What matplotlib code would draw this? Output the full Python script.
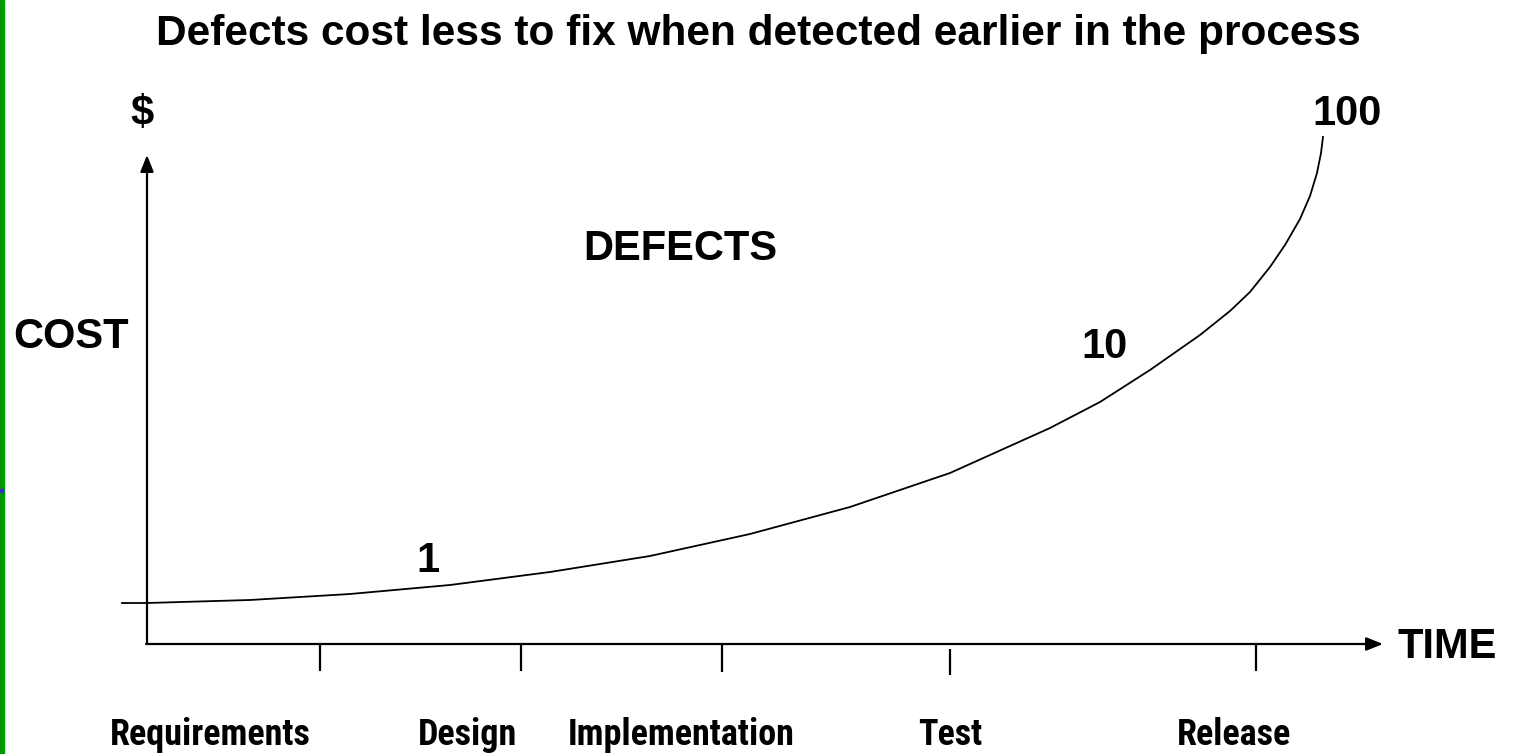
import numpy as np
import matplotlib
import matplotlib.pyplot as plt
from matplotlib.patches import Rectangle
from matplotlib import font_manager as fm

matplotlib.use('Agg')
plt.rcParams['font.family'] = ['Liberation Sans', 'DejaVu Sans']
plt.rcParams['font.weight'] = 'bold'

# curve: time units from the cost axis, cost units above the time axis
curve_t = [-25, 0, 103, 203, 303, 403, 503, 603, 703, 803, 903, 953, 1003, 1053,
           1083, 1103, 1123, 1138, 1153, 1163, 1170, 1174, 1176]
curve_cost = [41, 41, 44, 50, 59, 72, 88, 110, 137, 171, 216, 242, 274, 309,
              333, 352, 377, 399, 425, 448, 471, 491, 507]

stage_names = ['Requirements', 'Design', 'Implementation', 'Test', 'Release']
stage_ticks = [173, 374, 575, 803, 1109]
tick_top = [0, 0, 0, -5, 0]
tick_bottom = [-27, -27, -28, -31, -27]
stage_label_x = [63, 320, 534, 803, 1087]

cost_marks = ['1', '10', '100']
cost_mark_x = [281, 958, 1200]
cost_mark_y = [72, 286, 519]

# look for a narrow bold face for the stage names
narrow = None
for f in fm.fontManager.ttflist:
    n = f.name.lower()
    if ('narrow' in n or 'condensed' in n or 'condensed' in str(f.stretch)) and f.weight in ('bold', 700):
        narrow = f
        if 'liberation' in n or 'roboto' in n:
            break
if narrow is not None:
    stage_font = dict(fontproperties=fm.FontProperties(fname=narrow.fname, size=26))
else:
    stage_font = dict(fontsize=20, fontweight='bold')

fig = plt.figure(figsize=(15.16, 7.54), dpi=100)
ax = fig.add_axes([0, 0, 1, 1])
ax.set_xlim(-147, 1516 - 147)
ax.set_ylim(-110, 644)
ax.axis('off')

# green strip on the left edge, with the little blue nick
fig.patches.append(Rectangle((0, 0), 4 / 1516, 1, transform=fig.transFigure,
                             color='#009900', zorder=0))
fig.patches.append(Rectangle((0, 1 - 492 / 754), 3 / 1516, 3 / 754,
                             transform=fig.transFigure, color='#3333cc', zorder=1))

# axes with arrows
arrow = dict(arrowstyle='-|>,head_length=1.0,head_width=0.4', color='black',
             lw=1.6, shrinkA=0, shrinkB=0)
ax.annotate('', xy=(0, 489), xytext=(0, 0), arrowprops=arrow)
ax.annotate('', xy=(1236, 0), xytext=(-1, 0), arrowprops=arrow)

# stage ticks
for x, y0, y1 in zip(stage_ticks, tick_top, tick_bottom):
    ax.plot([x, x], [y0, y1], color='black', lw=1.6, solid_capstyle='butt')

ax.plot(curve_t, curve_cost, color='black', lw=1.3, solid_joinstyle='round')

big = dict(fontsize=30, fontweight='bold', va='baseline')
for s, x, y in zip(cost_marks, cost_mark_x, cost_mark_y):
    ax.text(x, y, s, ha='center', **big)

ax.text(-5, 519, '$', ha='center', **big)
ax.text(533, 384, 'DEFECTS', ha='center', **big)
ax.text(-134, 296, 'COST', ha='left', **big)
ax.text(1251, -14, 'TIME', ha='left', **big)

for s, x in zip(stage_names, stage_label_x):
    ax.text(x, -101, s, ha='center', va='baseline', **stage_font)

ax.text(611, 599, 'Defects cost less to fix when detected earlier in the process',
        ha='center', fontsize=30.5, fontweight='bold', va='baseline')

fig.savefig('out.png', dpi=100)
